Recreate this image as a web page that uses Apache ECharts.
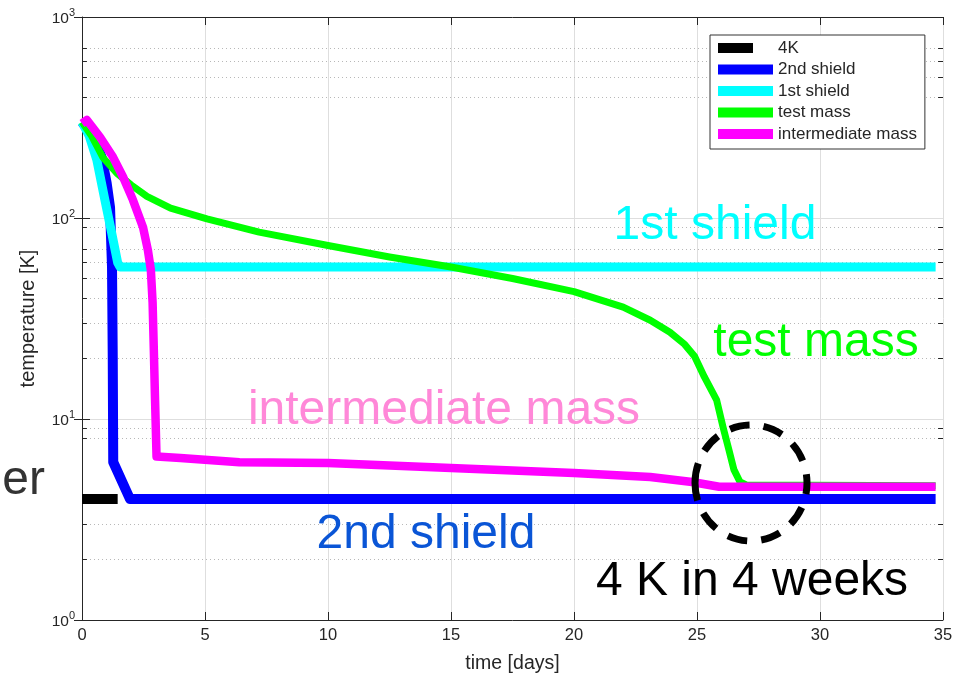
<!DOCTYPE html>
<html><head><meta charset="utf-8">
<script src="https://cdn.jsdelivr.net/npm/echarts@6/dist/echarts.min.js"></script>
<style>html,body{margin:0;padding:0;background:#fff}#c{width:961px;height:675px}</style>
</head><body><div id="c"></div>
<script>
// ---- data ----
const xTicks = [0, 5, 10, 15, 20, 25, 30, 35];
const yTickExponents = [0, 1, 2, 3];
const minorTicks = [400, 500, 600, 700, 90, 70, 60, 50, 40, 30, 20, 9, 8, 3, 2];
const seriesNames = ['4K', '2nd shield', '1st shield', 'test mass', 'intermediate mass'];
const k4 = [[0, 4], [1.45, 4]];
const shield2 = [[0, 300], [0.45, 260], [0.8, 200], [1.0, 150], [1.14, 113], [1.22, 57], [1.25, 20], [1.27, 6.1], [1.95, 4.0], [34.7, 4.0]];
const shield1 = [[0, 300], [0.3, 255], [0.6, 195], [0.93, 123], [1.2, 85], [1.45, 60], [1.55, 57], [34.7, 57]];
const testMass = [[0, 300], [0.4, 255], [0.85, 200], [1.42, 167], [2.0, 146], [2.64, 128], [3.6, 112], [5.08, 99], [7.2, 85], [10, 73], [12.5, 64], [15, 57], [17.5, 50], [20, 43], [22, 36], [23.1, 31], [23.9, 27], [24.5, 23.5], [24.9, 20.5], [25.3, 16.2], [25.8, 12.4], [26.06, 9.1], [26.3, 7.0], [26.5, 5.6], [26.75, 4.86], [27, 4.7], [34.7, 4.65]];
const interMass = [[0, 295], [0.2, 307], [0.73, 253], [1.26, 201], [1.67, 160], [2.07, 123], [2.48, 90], [2.68, 69], [2.8, 55], [2.87, 38], [2.92, 22], [2.97, 12.4], [3.03, 6.5], [4, 6.4], [6.4, 6.1], [10, 6.04], [15, 5.71], [20, 5.38], [23.1, 5.15], [24.8, 4.86], [25.9, 4.6], [34.7, 4.6]];
const annotations = [
  {text: '1st shield', color: '#00ffff'},
  {text: 'test mass', color: '#00ff00'},
  {text: 'intermediate mass', color: '#ff88d8'},
  {text: '2nd shield', color: '#0a55d6'},
  {text: '4 K in 4 weeks', color: '#000000'},
  {text: 'er', color: '#333333'}
];

// ---- chart ----
const FONT = '"Liberation Sans", Arial, Helvetica, sans-serif';
const AX = '#262626';
const chart = echarts.init(document.getElementById('c'), null, {renderer: 'canvas'});

function line(name, data, color, width) {
  return {
    name, type: 'line', data, symbol: 'none', showSymbol: false, animation: false,
    lineStyle: {color, width, join: 'round', cap: 'butt'}, itemStyle: {color},
    emphasis: {disabled: true}, z: 3
  };
}

const minorGrid = minorTicks.map(v => ({yAxis: v}));
const minorTickMarks = [];
minorTicks.forEach(v => {
  minorTickMarks.push([{coord: [0, v]}, {coord: [0.2, v]}]);
  minorTickMarks.push([{coord: [34.8, v]}, {coord: [35, v]}]);
});

const annPos = [
  {x: 715, y: 226, align: 'center'},
  {x: 816, y: 343, align: 'center'},
  {x: 444, y: 411, align: 'center'},
  {x: 426, y: 535, align: 'center'},
  {x: 752, y: 582, align: 'center'},
  {x: 45, y: 481, align: 'right'}
];

const option = {
  backgroundColor: '#ffffff',
  animation: false,
  grid: {left: 82, right: 18, top: 17, bottom: 55, outerBoundsMode: 'none'},
  xAxis: [{
    type: 'value', min: 0, max: 35, interval: 5, position: 'bottom',
    name: 'time [days]', nameLocation: 'middle', nameGap: 34,
    nameTextStyle: {fontFamily: FONT, fontSize: 19.5, color: AX},
    axisLine: {show: true, onZero: false, lineStyle: {color: AX, width: 1}},
    axisTick: {show: true, inside: true, length: 8, lineStyle: {color: AX}},
    axisLabel: {fontFamily: FONT, fontSize: 16.5, color: AX, margin: 7,
      formatter: v => xTicks.includes(v) ? String(v) : ''},
    splitLine: {show: true, lineStyle: {color: '#dedede', width: 1}}
  }, {
    type: 'value', min: 0, max: 35, interval: 5, position: 'top',
    axisLine: {show: true, onZero: false, lineStyle: {color: AX, width: 1}},
    axisTick: {show: true, inside: true, length: 8, lineStyle: {color: AX}},
    axisLabel: {show: false}, splitLine: {show: false}
  }],
  yAxis: [{
    type: 'log', logBase: 10, min: 1, max: 1000, position: 'left',
    name: 'temperature [K]', nameLocation: 'middle', nameGap: 44,
    nameTextStyle: {fontFamily: FONT, fontSize: 20, color: AX},
    axisLine: {show: true, onZero: false, lineStyle: {color: AX, width: 1}},
    axisTick: {show: true, inside: true, length: 8, lineStyle: {color: AX}},
    axisLabel: {
      margin: 7, showMinLabel: true, showMaxLabel: true,
      formatter: v => {
        const e = Math.round(Math.log10(v));
        return yTickExponents.includes(e) ? '{b|10}{s|' + e + '}' : '';
      },
      rich: {
        b: {fontFamily: FONT, fontSize: 15.5, color: AX, verticalAlign: 'bottom'},
        s: {fontFamily: FONT, fontSize: 11, color: AX, verticalAlign: 'bottom', padding: [0, 0, 8, 0]}
      }
    },
    splitLine: {show: true, lineStyle: {color: '#dedede', width: 1}}
  }, {
    type: 'log', logBase: 10, min: 1, max: 1000, position: 'right',
    axisLine: {show: false},
    axisTick: {show: true, inside: true, length: 8, lineStyle: {color: AX}},
    axisLabel: {show: false}, splitLine: {show: false}
  }],
  legend: {
    orient: 'vertical', left: 710, top: 35, z: 10,
    padding: [4.5, 8, 6.5, 8], itemGap: 4.5, itemWidth: 55, itemHeight: 10,
    icon: 'rect', backgroundColor: '#ffffff', borderColor: '#333333', borderWidth: 1,
    itemStyle: {borderWidth: 0},
    textStyle: {fontFamily: FONT, fontSize: 17, color: AX, lineHeight: 17},
    selectedMode: false,
    data: seriesNames.map((n, i) => i === 0
      ? {name: n, icon: 'path://M0,0L35,0L35,10L0,10ZM54.9,0L55,0L55,0.1L54.9,0.1Z'}
      : {name: n})
  },
  series: [
    {
      name: 'minor', type: 'line', data: [], silent: true, z: 1,
      markLine: {
        silent: true, symbol: 'none', animation: false, label: {show: false}, z: 1,
        emphasis: {disabled: true},
        lineStyle: {type: [1, 3], color: '#b8b8b8', width: 1},
        data: minorGrid
      }
    },
    {
      name: 'minorTicks', type: 'line', data: [], silent: true, z: 1,
      markLine: {
        silent: true, symbol: 'none', animation: false, label: {show: false}, z: 1,
        emphasis: {disabled: true},
        lineStyle: {type: 'solid', color: AX, width: 1},
        data: minorTickMarks
      }
    },
    line(seriesNames[0], k4, '#000000', 10),
    line(seriesNames[1], shield2, '#0000ff', 10),
    line(seriesNames[2], shield1, '#00ffff', 9),
    line(seriesNames[3], testMass, '#00ff00', 7),
    line(seriesNames[4], interMass, '#ff00ff', 8.5)
  ],
  graphic: [
    ...annotations.map((a, i) => ({
      type: 'text', z: 100,
      x: annPos[i].x, y: annPos[i].y,
      style: {text: a.text, fill: a.color, font: '48px ' + FONT,
        textAlign: annPos[i].align, textVerticalAlign: 'middle'}
    })),
    {
      type: 'ellipse', z: 101,
      shape: {cx: 751, cy: 483, rx: 56, ry: 58},
      style: {fill: 'none', stroke: '#000000', lineWidth: 7, lineDash: [20, 14]}
    }
  ]
};
chart.setOption(option);
</script>
</body></html>
